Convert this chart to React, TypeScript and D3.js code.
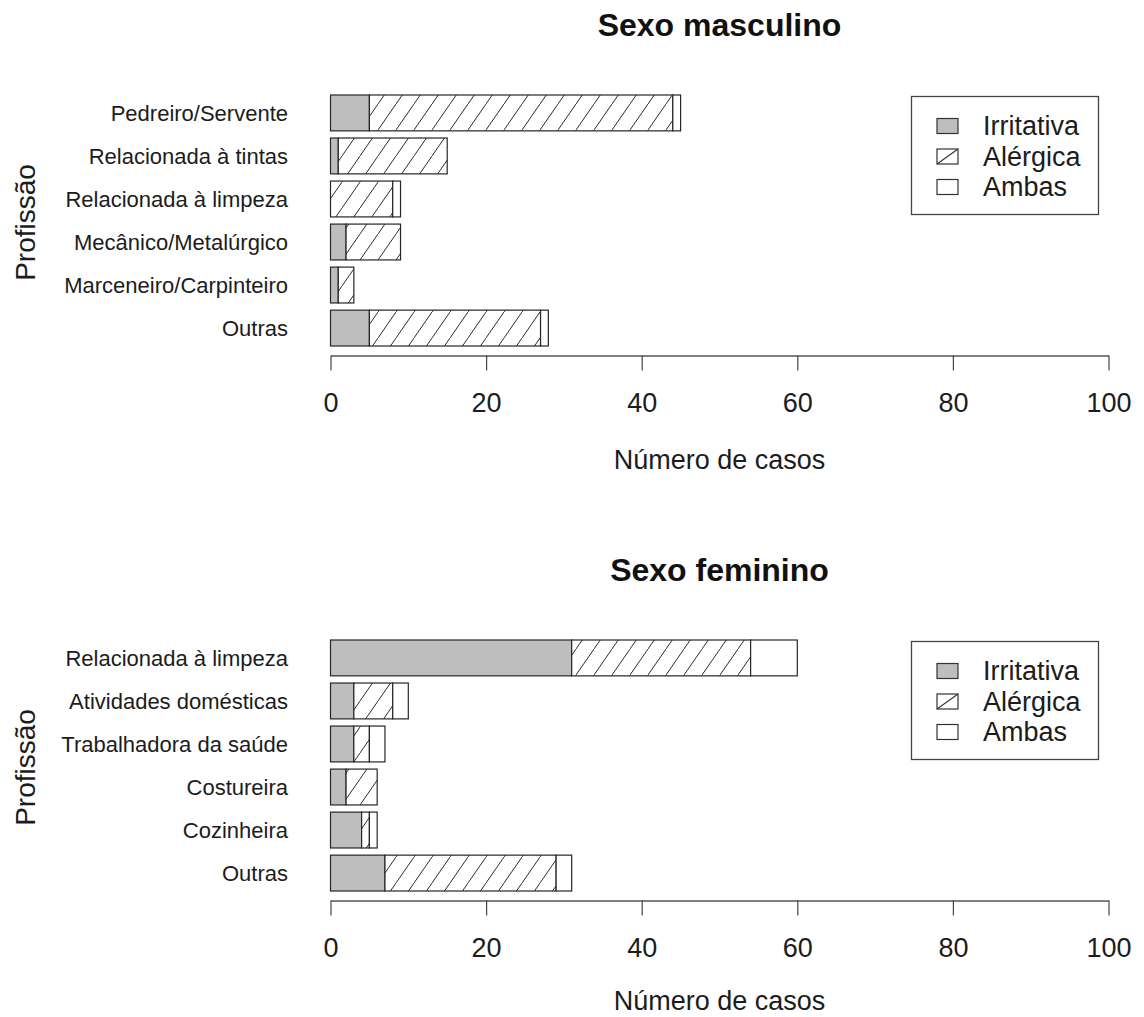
import React, { useEffect, useRef } from 'react';
import * as d3 from 'd3';

// tipos de dermatite (ordem de empilhamento)
const tipos = ['Irritativa', 'Alérgica', 'Ambas'];

// sexo masculino
const profMasc = [
  'Pedreiro/Servente',
  'Relacionada à tintas',
  'Relacionada à limpeza',
  'Mecânico/Metalúrgico',
  'Marceneiro/Carpinteiro',
  'Outras',
];
const irritMasc = [5, 1, 0, 2, 1, 5];
const alergMasc = [39, 14, 8, 7, 2, 22];
const ambasMasc = [1, 0, 1, 0, 0, 1];

// sexo feminino
const profFem = [
  'Relacionada à limpeza',
  'Atividades domésticas',
  'Trabalhadora da saúde',
  'Costureira',
  'Cozinheira',
  'Outras',
];
const irritFem = [31, 3, 3, 2, 4, 7];
const alergFem = [23, 5, 2, 4, 1, 22];
const ambasFem = [6, 2, 2, 0, 1, 2];

const xTicks = [0, 20, 40, 60, 80, 100];

const FONT = '"Liberation Sans", Arial, Helvetica, sans-serif';
const TXT = '#1c1c1c';

const App = () => {
  const ref = useRef<SVGSVGElement | null>(null);

  useEffect(() => {
    const svg = d3.select(ref.current);
    svg.selectAll('*').remove();

    const defs = svg.append('defs');
    const pat = defs.append('pattern')
      .attr('id', 'hatch')
      .attr('patternUnits', 'userSpaceOnUse')
      .attr('width', 18)
      .attr('height', 26);
    pat.append('rect').attr('width', 18).attr('height', 26).attr('fill', 'white');
    pat.append('line')
      .attr('x1', -1).attr('y1', 27.4).attr('x2', 19).attr('y2', -1.4)
      .attr('stroke', '#2a2a2a').attr('stroke-width', 1);

    const fills: Record<string, string> = {
      'Irritativa': '#bebebe',
      'Alérgica': 'url(#hatch)',
      'Ambas': 'white',
    };

    const x = d3.scaleLinear().domain([0, 100]).range([330.5, 1108.5]);

    const panels = [
      { title: 'Sexo masculino', cats: profMasc, irr: irritMasc, ale: alergMasc, amb: ambasMasc, dy: 0, xlabY: 469 },
      { title: 'Sexo feminino', cats: profFem, irr: irritFem, ale: alergFem, amb: ambasFem, dy: 545, xlabY: 465 },
    ];

    panels.forEach(p => {
      const g = svg.append('g').attr('transform', `translate(0,${p.dy})`);

      const rows = p.cats.map((c, i) => ({
        name: c,
        'Irritativa': p.irr[i],
        'Alérgica': p.ale[i],
        'Ambas': p.amb[i],
      }));
      const series = d3.stack().keys(tipos)(rows as any);

      const y = d3.scaleBand()
        .domain(p.cats)
        .range([95, 346])
        .paddingInner(1 / 6)
        .paddingOuter(0);

      // barras
      g.append('g')
        .selectAll('g')
        .data(series)
        .join('g')
        .attr('fill', d => fills[d.key])
        .selectAll('rect')
        .data(d => d.filter(s => s[1] - s[0] > 0))
        .join('rect')
        .attr('x', d => x(d[0]))
        .attr('y', d => y((d.data as any).name)!)
        .attr('width', d => x(d[1]) - x(d[0]))
        .attr('height', y.bandwidth())
        .attr('stroke', '#262626')
        .attr('stroke-width', 1.2);

      // rótulos das categorias
      g.append('g')
        .selectAll('text')
        .data(p.cats)
        .join('text')
        .attr('x', 288)
        .attr('y', d => y(d)! + y.bandwidth() / 2)
        .attr('dy', '0.35em')
        .attr('text-anchor', 'end')
        .style('font-family', FONT)
        .style('font-size', '22px')
        .attr('fill', TXT)
        .text(d => d);

      // eixo x
      const axis = g.append('g')
        .attr('transform', 'translate(0,355.5)')
        .call(d3.axisBottom(x).tickValues(xTicks).tickSize(15).tickPadding(22).tickSizeOuter(0));
      axis.select('.domain').attr('stroke', '#555').attr('stroke-width', 1.5);
      axis.selectAll('.tick line').attr('stroke', '#444').attr('stroke-width', 1.2);
      axis.selectAll('.tick text')
        .style('font-family', FONT)
        .style('font-size', '27px')
        .attr('fill', TXT);

      g.append('text')
        .attr('x', (x.range()[0] + x.range()[1]) / 2)
        .attr('y', p.xlabY)
        .attr('text-anchor', 'middle')
        .style('font-family', FONT)
        .style('font-size', '27px')
        .attr('fill', TXT)
        .text('Número de casos');

      g.append('text')
        .attr('transform', `translate(35,${(95 + 346) / 2 + 2}) rotate(-90)`)
        .attr('text-anchor', 'middle')
        .style('font-family', FONT)
        .style('font-size', '28px')
        .attr('fill', TXT)
        .text('Profissão');

      g.append('text')
        .attr('x', (x.range()[0] + x.range()[1]) / 2)
        .attr('y', 36)
        .attr('text-anchor', 'middle')
        .style('font-family', FONT)
        .style('font-size', '32px')
        .style('font-weight', 'bold')
        .attr('fill', '#111')
        .text(p.title);

      // legenda
      const lg = g.append('g').attr('transform', 'translate(911.5,96.5)');
      lg.append('rect')
        .attr('width', 187)
        .attr('height', 118)
        .attr('fill', 'white')
        .attr('stroke', '#444')
        .attr('stroke-width', 1.3);
      const item = lg.selectAll('g.item')
        .data(tipos)
        .join('g')
        .attr('class', 'item')
        .attr('transform', (d, i) => `translate(0,${29.5 + i * 30.5})`);
      item.append('rect')
        .attr('x', 25.5)
        .attr('y', -7.5)
        .attr('width', 21)
        .attr('height', 15)
        .attr('fill', d => (d === 'Irritativa' ? fills[d] : 'white'))
        .attr('stroke', '#333')
        .attr('stroke-width', 1.2);
      item.filter(d => d === 'Alérgica')
        .append('line')
        .attr('x1', 25.5).attr('y1', 7.5).attr('x2', 46.5).attr('y2', -7.5)
        .attr('stroke', '#333').attr('stroke-width', 1.1);
      item.append('text')
        .attr('x', 71.5)
        .attr('dy', '0.35em')
        .style('font-family', FONT)
        .style('font-size', '27px')
        .attr('fill', TXT)
        .text(d => d);
    });
  }, []);

  return (
    <svg
      ref={ref}
      width={1144}
      height={1017}
      style={{ position: 'absolute', left: 0, top: 0, background: 'white' }}
    />
  );
};

export default App;
